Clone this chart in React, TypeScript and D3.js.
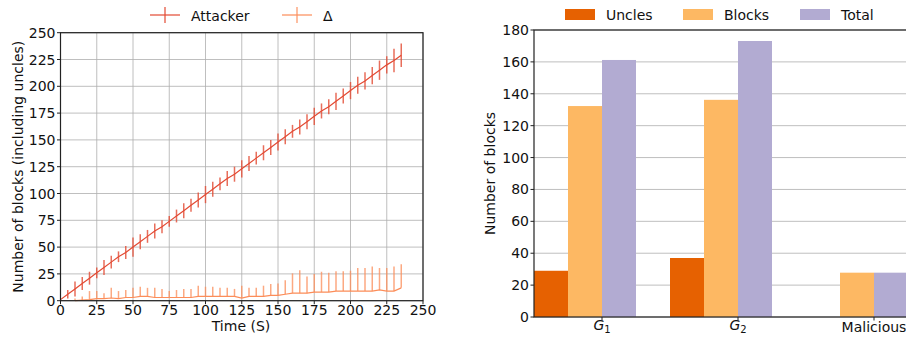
import React from "react";
import * as d3 from "d3";

// ---------- Left chart data ----------
const times: number[] = [0, 5, 10, 15, 20, 25, 30, 35, 40, 45, 50, 55, 60, 65, 70, 75, 80, 85, 90, 95, 100, 105, 110, 115, 120, 125, 130, 135, 140, 145, 150, 155, 160, 165, 170, 175, 180, 185, 190, 195, 200, 205, 210, 215, 220, 225, 230, 235];
const attacker: number[] = [1, 6, 11, 16, 21, 26, 31, 36, 41, 45, 50, 55, 60, 65, 69, 74, 79, 84, 89, 94, 99, 104, 109, 114, 118, 123, 128, 133, 138, 143, 148, 153, 158, 162, 167, 172, 177, 181, 186, 191, 196, 201, 205, 210, 215, 220, 224, 229];
const attackerErr: number[] = [0, 4, 7, 6, 6, 5, 7, 6, 5, 6, 9, 7, 6, 7, 6, 5, 6, 7, 6, 7, 8, 7, 6, 7, 7, 8, 7, 6, 7, 7, 8, 7, 6, 7, 7, 8, 7, 7, 8, 7, 8, 8, 8, 8, 9, 8, 11, 11];
const deltaTimes: number[] = [10, 15, 20, 25, 30, 35, 40, 45, 50, 55, 60, 65, 70, 75, 80, 85, 90, 95, 100, 105, 110, 115, 120, 125, 130, 135, 140, 145, 150, 155, 160, 165, 170, 175, 180, 185, 190, 195, 200, 205, 210, 215, 220, 225, 230, 235];
const delta: number[] = [0, 0.5, 1, 2, 2, 2.5, 2, 3, 3, 4, 4, 3, 3, 3, 3, 3, 3, 4, 4, 4, 4, 4, 4, 2.5, 4, 4, 4, 5, 5, 6, 7, 7, 7, 8, 8, 8, 9, 9, 9, 9, 9, 9, 10, 9, 9, 12];
const deltaTop: number[] = [2, 4, 9, 9, 7, 12, 9, 10, 12, 13, 12, 12, 11, 9, 10, 11, 11, 14, 13, 13, 12, 12, 11, 14, 12, 12, 14, 15.5, 16, 19, 25.5, 28.5, 22.5, 25, 27, 26, 27.5, 27.5, 28, 30.5, 30.5, 32, 30.5, 30.5, 32, 34];
const xTicksLeft: number[] = [0, 25, 50, 75, 100, 125, 150, 175, 200, 225, 250];
const yTicksLeft: number[] = [0, 25, 50, 75, 100, 125, 150, 175, 200, 225, 250];

// ---------- Right chart data ----------
const groups: string[] = ["G1", "G2", "Malicious"];
const uncles: number[] = [29, 37, 0];
const blocks: number[] = [132.3, 136.2, 27.8];
const totals: number[] = [161.2, 173.1, 27.8];
const yTicksRight: number[] = [0, 20, 40, 60, 80, 100, 120, 140, 160, 180];

const FONT = "DejaVu Sans, sans-serif";
const FS = 14;
const C_ATT = "#e34a33";
const C_DEL = "#fc8d59";
const C_UNC = "#e66101";
const C_BLK = "#fdb863";
const C_TOT = "#b2abd2";

function LeftChart() {
  const x = d3.scaleLinear().domain([0, 250]).range([60.5, 423]);
  const y = d3.scaleLinear().domain([0, 250]).range([300.7, 32.7]);
  const lineGen = d3.line<[number, number]>().x((d) => x(d[0])).y((d) => y(d[1]));
  const attPts: [number, number][] = times.map((t, i) => [t, attacker[i]]);
  const delPts: [number, number][] = deltaTimes.map((t, i) => [t, delta[i]]);
  return (
    <g>
      {xTicksLeft.map((t) => (
        <line key={"gx" + t} x1={x(t)} x2={x(t)} y1={y(0)} y2={y(250)} stroke="#b0b0b0" strokeWidth={1} opacity={0.8} />
      ))}
      {yTicksLeft.map((t) => (
        <line key={"gy" + t} x1={x(0)} x2={x(250)} y1={y(t)} y2={y(t)} stroke="#b0b0b0" strokeWidth={1} opacity={0.8} />
      ))}
      {deltaTimes.map((t, i) => (
        <line key={"de" + i} x1={x(t)} x2={x(t)} y1={y(delta[i])} y2={y(deltaTop[i])} stroke={C_DEL} strokeWidth={1.5} opacity={0.75} />
      ))}
      <path d={lineGen(delPts) || ""} fill="none" stroke={C_DEL} strokeWidth={1.2} />
      {times.map((t, i) => (
        <line key={"ae" + i} x1={x(t)} x2={x(t)} y1={y(attacker[i] - attackerErr[i])} y2={y(attacker[i] + attackerErr[i])} stroke={C_ATT} strokeWidth={1.5} opacity={0.8} />
      ))}
      <path d={lineGen(attPts) || ""} fill="none" stroke={C_ATT} strokeWidth={1.2} />
      <rect x={x(0)} y={y(250)} width={x(250) - x(0)} height={y(0) - y(250)} fill="none" stroke="#222" strokeWidth={1.2} />
      {xTicksLeft.map((t) => (
        <g key={"xt" + t}>
          <line x1={x(t)} x2={x(t)} y1={y(0)} y2={y(0) + 3.5} stroke="#222" strokeWidth={1} />
          <text x={x(t)} y={315} textAnchor="middle" fontSize={FS} fontFamily={FONT} fill="#111">{t}</text>
        </g>
      ))}
      {yTicksLeft.map((t) => (
        <g key={"yt" + t}>
          <line x1={x(0) - 3.5} x2={x(0)} y1={y(t)} y2={y(t)} stroke="#222" strokeWidth={1} />
          <text x={x(0) - 5} y={y(t) + 5} textAnchor="end" fontSize={FS} fontFamily={FONT} fill="#111">{t}</text>
        </g>
      ))}
      <text x={241} y={330.5} textAnchor="middle" fontSize={FS} fontFamily={FONT} fill="#111">Time (S)</text>
      <text transform={`translate(23,${(y(0) + y(250)) / 2}) rotate(-90)`} textAnchor="middle" fontSize={FS} fontFamily={FONT} fill="#111">Number of blocks (including uncles)</text>
      <g>
        <line x1={150} x2={180} y1={15} y2={15} stroke={C_ATT} strokeWidth={1.2} />
        <line x1={165} x2={165} y1={7} y2={23} stroke={C_ATT} strokeWidth={1.5} opacity={0.8} />
        <text x={191} y={20.5} fontSize={FS} fontFamily={FONT} fill="#111">Attacker</text>
        <line x1={282} x2={312} y1={15} y2={15} stroke={C_DEL} strokeWidth={1.2} />
        <line x1={297} x2={297} y1={7} y2={23} stroke={C_DEL} strokeWidth={1.5} opacity={0.75} />
        <text x={323} y={20.5} fontSize={FS} fontFamily={FONT} fill="#111">Δ</text>
      </g>
    </g>
  );
}

function RightChart() {
  const xs = d3.scaleLinear().domain([0, 1]).range([602, 738]);
  const y = d3.scaleLinear().domain([0, 180]).range([317, 30]);
  const w = 0.25;
  const left = xs(-0.5);
  const right = xs(2.5);
  const series = [
    { name: "Uncles", vals: uncles, color: C_UNC, off: -2 * w },
    { name: "Blocks", vals: blocks, color: C_BLK, off: -w },
    { name: "Total", vals: totals, color: C_TOT, off: 0 },
  ];
  return (
    <g>
      {yTicksRight.map((t) => (
        <line key={"gy" + t} x1={left} x2={right} y1={y(t)} y2={y(t)} stroke="#b0b0b0" strokeWidth={1} opacity={0.8} />
      ))}
      {series.map((s) =>
        s.vals.map((v, i) =>
          v > 0 ? (
            <rect key={s.name + i} x={xs(i + s.off)} width={xs(i + s.off + w) - xs(i + s.off)} y={y(v)} height={y(0) - y(v)} fill={s.color} />
          ) : null
        )
      )}
      <rect x={left} y={y(180)} width={right - left} height={y(0) - y(180)} fill="none" stroke="#222" strokeWidth={1.2} />
      {yTicksRight.map((t) => (
        <g key={"yt" + t}>
          <line x1={left - 3.5} x2={left} y1={y(t)} y2={y(t)} stroke="#222" strokeWidth={1} />
          <text x={left - 5} y={y(t) + 5} textAnchor="end" fontSize={FS} fontFamily={FONT} fill="#111">{t}</text>
        </g>
      ))}
      {groups.map((g, i) => (
        <g key={g}>
          <line x1={xs(i)} x2={xs(i)} y1={y(0)} y2={y(0) + 3.5} stroke="#222" strokeWidth={1} />
          {g === "Malicious" ? (
            <text x={xs(i)} y={332} textAnchor="middle" fontSize={FS} fontFamily={FONT} fill="#111">{g}</text>
          ) : (
            <text x={xs(i)} y={330} textAnchor="middle" fontSize={FS} fontFamily={FONT} fill="#111">
              <tspan fontStyle="italic">{g[0]}</tspan>
              <tspan fontSize={10} dy={3}>{g.slice(1)}</tspan>
            </text>
          )}
        </g>
      ))}
      <text transform={`translate(495,${(y(0) + y(180)) / 2}) rotate(-90)`} textAnchor="middle" fontSize={FS} fontFamily={FONT} fill="#111">Number of blocks</text>
      {series.map((s, i) => {
        const xs0 = [565, 683, 800][i];
        return (
          <g key={"lg" + s.name}>
            <rect x={xs0} y={9} width={30} height={11} fill={s.color} />
            <text x={xs0 + 41} y={20} fontSize={FS} fontFamily={FONT} fill="#111">{s.name}</text>
          </g>
        );
      })}
    </g>
  );
}

export default function App() {
  return (
    <svg width={906} height={348} style={{ position: "fixed", left: 0, top: 0, background: "#fff" }}>
      <LeftChart />
      <RightChart />
    </svg>
  );
}
